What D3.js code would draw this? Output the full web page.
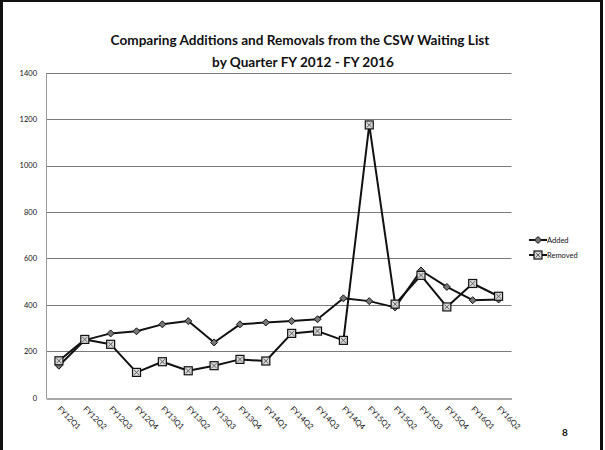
<!DOCTYPE html>
<html>
<head>
<meta charset="utf-8">
<script src="https://cdn.jsdelivr.net/npm/d3@7"></script>
<style>
  html, body { margin: 0; padding: 0; background: #fff; }
  svg { display: block; }
</style>
</head>
<body>
<svg id="chart" width="605" height="450"></svg>
<script>
// Quarterly additions to / removals from the CSW waiting list
const quarters = ["FY12Q1","FY12Q2","FY12Q3","FY12Q4","FY13Q1","FY13Q2","FY13Q3","FY13Q4",
                  "FY14Q1","FY14Q2","FY14Q3","FY14Q4","FY15Q1","FY15Q2","FY15Q3","FY15Q4",
                  "FY16Q1","FY16Q2"];
const added   = [138, 248, 277, 286, 316, 330, 238, 316, 324, 330, 338, 428, 416, 389, 548, 477, 420, 423];
const removed = [159, 251, 230, 109, 155, 116, 138, 165, 158, 277, 287, 247, 1175, 403, 527, 391, 492, 437];
const yTicks  = [0, 200, 400, 600, 800, 1000, 1200, 1400];
const seriesNames = ["Added", "Removed"];

const svg = d3.select("#chart");
const font = "Lato, 'Open Sans', sans-serif";

// page frame
svg.append("rect").attr("x", 0).attr("y", 0).attr("width", 605).attr("height", 450).attr("fill", "#fff");
svg.append("line").attr("x1", 0).attr("x2", 603).attr("y1", 1).attr("y2", 1).attr("stroke", "#111").attr("stroke-width", 2);
svg.append("line").attr("x1", 1.5).attr("x2", 1.5).attr("y1", 0).attr("y2", 450).attr("stroke", "#111").attr("stroke-width", 3);
svg.append("line").attr("x1", 601.5).attr("x2", 601.5).attr("y1", 0).attr("y2", 450).attr("stroke", "#111").attr("stroke-width", 3);

// title
const title = svg.append("text").attr("text-anchor", "middle").attr("font-family", font)
  .attr("font-weight", "bold").attr("font-size", 13.6).attr("fill", "#111");
title.append("tspan").attr("x", 300).attr("y", 45).text("Comparing Additions and Removals from the CSW Waiting List");
title.append("tspan").attr("x", 303).attr("y", 67).text("by Quarter FY 2012 - FY 2016");

const x = d3.scaleBand().domain(quarters).range([46, 511.5]);
const y = d3.scaleLinear().domain([0, 1400]).range([397.7, 72.7]);

// horizontal gridlines
svg.append("g").selectAll("line").data(yTicks.filter(d => d > 0)).join("line")
  .attr("x1", 46).attr("x2", 511.5)
  .attr("y1", d => Math.round(y(d)) + 0.5).attr("y2", d => Math.round(y(d)) + 0.5)
  .attr("stroke", "#7a7a7a").attr("stroke-width", 1);

// y axis
const yAxis = svg.append("g").attr("transform", "translate(46,0)")
  .call(d3.axisLeft(y).tickValues(yTicks).tickFormat(d3.format("d")).tickSize(0).tickPadding(9));
yAxis.select(".domain").attr("stroke", "#9a9a9a");
yAxis.selectAll("text").attr("font-family", font).attr("font-size", 7.5).attr("fill", "#111");

// x axis
const xAxis = svg.append("g").attr("transform", `translate(0,${Math.round(y(0)) + 0.5})`)
  .call(d3.axisBottom(x).tickSize(0).tickPadding(0));
xAxis.select(".domain").attr("stroke", "#555").attr("stroke-width", 1.2);
xAxis.selectAll("text")
  .attr("font-family", font).attr("font-size", 7.8).attr("fill", "#111")
  .attr("text-anchor", "start")
  .attr("dy", 0)
  .attr("transform", "translate(-2,11) rotate(45)");

const cx = d => x(d) + x.bandwidth() / 2;
const line = d3.line().x(d => cx(d.q)).y(d => y(d.v));
const addedPts = quarters.map((q, i) => ({ q, v: added[i] }));
const removedPts = quarters.map((q, i) => ({ q, v: removed[i] }));

svg.append("path").datum(addedPts).attr("d", line)
  .attr("fill", "none").attr("stroke", "#111").attr("stroke-width", 2).attr("stroke-linejoin", "round");
svg.append("path").datum(removedPts).attr("d", line)
  .attr("fill", "none").attr("stroke", "#111").attr("stroke-width", 2).attr("stroke-linejoin", "round");

// diamond markers
function diamond(g, px, py) {
  g.append("path").attr("d", `M${px},${py - 3.5}L${px + 3.5},${py}L${px},${py + 3.5}L${px - 3.5},${py}Z`)
    .attr("fill", "#777").attr("stroke", "#111").attr("stroke-width", 1);
}
// square-with-cross markers
function crossSquare(g, px, py) {
  const s = 4;
  g.append("rect").attr("x", px - s).attr("y", py - s).attr("width", 2 * s).attr("height", 2 * s)
    .attr("fill", "#d8d8d8").attr("stroke", "#111").attr("stroke-width", 1.2);
  g.append("path").attr("d", `M${px - s + 1.5},${py - s + 1.5}L${px + s - 1.5},${py + s - 1.5}M${px + s - 1.5},${py - s + 1.5}L${px - s + 1.5},${py + s - 1.5}`)
    .attr("stroke", "#444").attr("stroke-width", 0.8);
}

const mk = svg.append("g");
addedPts.forEach(d => diamond(mk, cx(d.q), y(d.v)));
removedPts.forEach(d => crossSquare(mk, cx(d.q), y(d.v)));

// legend
const leg = svg.append("g");
[0, 1].forEach(i => {
  const ly = 240 + i * 15;
  leg.append("line").attr("x1", 529).attr("x2", 547).attr("y1", ly).attr("y2", ly)
    .attr("stroke", "#111").attr("stroke-width", 2);
  if (i === 0) diamond(leg, 538, ly); else crossSquare(leg, 538, ly);
  leg.append("text").attr("x", 547).attr("y", ly + 2.8).attr("font-family", font)
    .attr("font-size", 7.5).attr("fill", "#111").text(seriesNames[i]);
});

// page number
svg.append("text").attr("x", 562).attr("y", 436).attr("font-family", font)
  .attr("font-weight", "bold").attr("font-size", 10).attr("fill", "#111").text("8");
</script>
</body>
</html>
